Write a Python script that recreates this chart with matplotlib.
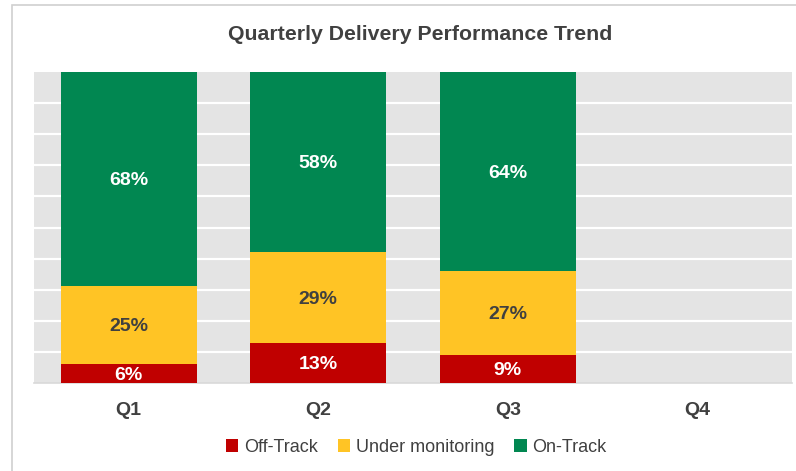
import matplotlib.pyplot as plt
import numpy as np
from matplotlib.patches import Rectangle

plt.rcParams['font.family'] = ['Liberation Sans', 'DejaVu Sans']

quarters = ['Q1', 'Q2', 'Q3', 'Q4']
off_track = [6, 13, 9, 0]
under_monitoring = [25, 29, 27, 0]
on_track = [68, 58, 64, 0]

series_names = ['Off-Track', 'Under monitoring', 'On-Track']
series_colors = ['#C00000', '#FFC425', '#018751']
label_colors = ['white', '#404040', 'white']

fig = plt.figure(figsize=(7.96, 4.71), dpi=100)

# outer chart frame
fig.patches.append(Rectangle((12 / 796, -0.05), 1.0, (471 - 5) / 471 + 0.05,
                             transform=fig.transFigure, fill=False,
                             edgecolor='#D0D0D0', linewidth=1.2))

ax = fig.add_axes([34 / 796, (471 - 383) / 471, (792 - 34) / 796, (383 - 72) / 471])
ax.set_facecolor('#E4E4E4')

x = np.arange(len(quarters))
data = np.array([off_track, under_monitoring, on_track], dtype=float)
totals = data.sum(axis=0)
shares = np.divide(data * 100, totals, out=np.zeros_like(data), where=totals > 0)

bottom = np.zeros(len(quarters))
for vals, shr, name, col, lc in zip(data, shares, series_names, series_colors, label_colors):
    bars = ax.bar(x, shr, 0.72, bottom=bottom, color=col, label=name, zorder=3)
    for b, v, s, b0 in zip(bars, vals, shr, bottom):
        if v > 0:
            ax.text(b.get_x() + b.get_width() / 2, b0 + s / 2 - 0.5, f'{int(v)}%',
                    ha='center', va='center', color=lc, fontsize=14,
                    fontweight='bold', zorder=4)
    bottom += shr

ax.set_xlim(-0.5, 3.5)
ax.set_ylim(0, 100)
ax.set_yticks(np.arange(10, 100, 10))
ax.yaxis.grid(True, color='white', linewidth=1.6, zorder=1)
ax.set_axisbelow(True)
ax.tick_params(axis='y', left=False, labelleft=False)
ax.tick_params(axis='x', bottom=False, pad=10)
ax.set_xticks(x)
ax.set_xticklabels(quarters, fontsize=14, fontweight='bold', color='#404040')
for side in ['top', 'left', 'right']:
    ax.spines[side].set_visible(False)
ax.spines['bottom'].set_color('#D9D9D9')
ax.spines['bottom'].set_linewidth(1.2)

fig.text(420 / 796, 1 - 34 / 471, 'Quarterly Delivery Performance Trend',
         ha='center', va='center', fontsize=15.3, fontweight='bold', color='#404040')

fig.legend(loc='center', bbox_to_anchor=(416 / 796, 1 - 447 / 471), ncol=3,
           frameon=False, fontsize=13, handlelength=0.7, handleheight=0.7,
           handletextpad=0.3, columnspacing=1.1, labelcolor='#404040')

fig.savefig('out.png', dpi=100)
